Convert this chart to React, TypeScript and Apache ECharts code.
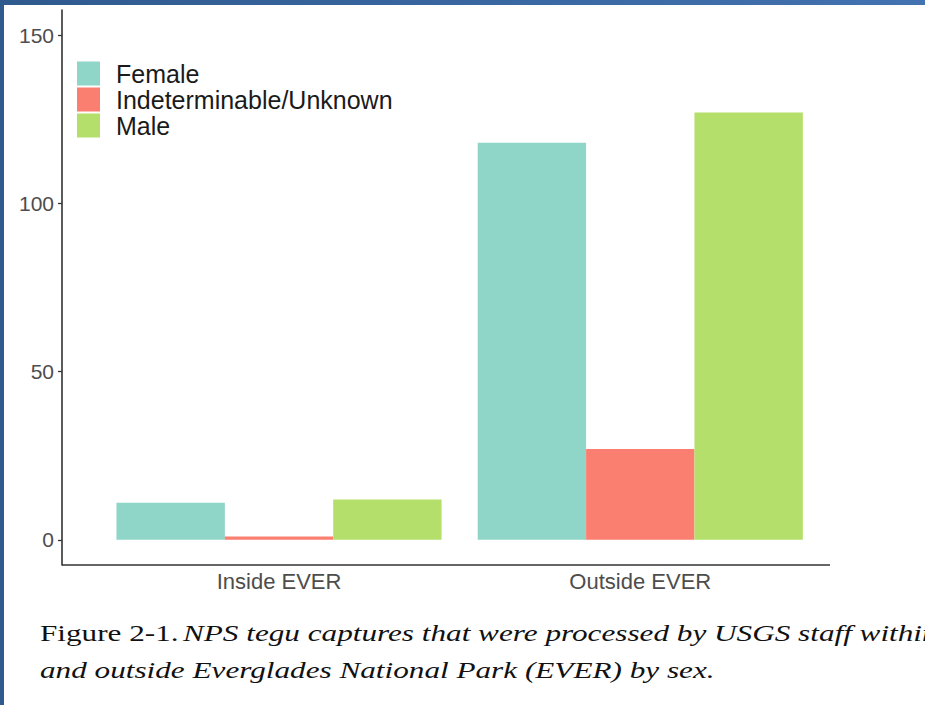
import React, { useEffect, useRef } from "react";
import * as echarts from "echarts";

const categories = ["Inside EVER", "Outside EVER"];
const seriesNames = ["Female", "Indeterminable/Unknown", "Male"];
const femaleValues = [11, 118];
const unknownValues = [1, 27];
const maleValues = [12, 127];
const yTicks = [0, 50, 100, 150];
const seriesColors = ["#8fd5c8", "#fa7f71", "#b4df6b"];
const captionLead = "Figure 2-1.";
const captionLine1 = "NPS tegu captures that were processed by USGS staff within";
const captionLine2 = "and outside Everglades National Park (EVER) by sex.";

export default function App() {
  const ref = useRef<HTMLDivElement>(null);
  useEffect(() => {
    if (!ref.current) return;
    const chart = echarts.init(ref.current, null, { renderer: "svg" });
    const values = [femaleValues, unknownValues, maleValues];
    const sans = "Liberation Sans";
    const serif = "Liberation Serif";
    chart.setOption({
      animation: false,
      backgroundColor: "#ffffff",
      grid: { left: 98.4, right: 104.1, top: 10, bottom: 140, containLabel: false },
      legend: {
        orient: "vertical",
        left: 77,
        top: 61,
        padding: 0,
        itemWidth: 23,
        itemHeight: 24,
        itemGap: 1,
        icon: "rect",
        data: seriesNames,
        textStyle: {
          fontFamily: sans,
          fontSize: 25,
          lineHeight: 25,
          color: "#1a1a1a",
          padding: [0, 0, 0, 11],
        },
      },
      xAxis: {
        type: "category",
        data: categories,
        axisLine: { show: false },
        axisTick: { show: false },
        axisLabel: {
          color: "#4d4d4d",
          fontFamily: sans,
          fontSize: 22,
          margin: 5,
        },
      },
      yAxis: {
        type: "value",
        min: -7.5,
        max: 157.5,
        offset: 36.4,
        splitLine: { show: false },
        axisLine: { show: true, lineStyle: { color: "#333333", width: 1.6 } },
        axisTick: {
          show: true,
          customValues: yTicks,
          length: 4,
          lineStyle: { color: "#333333", width: 1.3 },
        },
        axisLabel: {
          customValues: yTicks,
          color: "#4d4d4d",
          fontFamily: sans,
          fontSize: 21,
          margin: 8,
        },
      },
      series: seriesNames.map((name, i) => ({
        name,
        type: "bar",
        data: values[i],
        barGap: "0%",
        barCategoryGap: "10%",
        itemStyle: { color: seriesColors[i] },
      })),
      graphic: [
        {
          type: "rect",
          left: 0,
          top: 0,
          shape: { width: 925, height: 5 },
          style: {
            fill: new echarts.graphic.LinearGradient(0, 0, 1, 0, [
              { offset: 0, color: "#2f5a8e" },
              { offset: 1, color: "#4272b0" },
            ]),
          },
          z: 100,
        },
        {
          type: "rect",
          left: 0,
          top: 0,
          shape: { width: 4, height: 705 },
          style: { fill: "#2f5a8e" },
          z: 100,
        },
        {
          type: "line",
          shape: { x1: 62, y1: 565, x2: 830, y2: 565 },
          style: { stroke: "#333333", lineWidth: 1.6 },
          z: 50,
        },
        {
          type: "text",
          x: 40,
          y: 633,
          scaleX: 1.3,
          style: {
            text: "{n|" + captionLead + "} {i|" + captionLine1 + "}",
            verticalAlign: "middle",
            textAlign: "left",
            fill: "#111111",
            rich: {
              n: { fontFamily: serif, fontSize: 24, fill: "#111111" },
              i: { fontFamily: serif, fontSize: 24, fontStyle: "italic", fill: "#111111" },
            },
          },
        },
        {
          type: "text",
          x: 40,
          y: 670,
          scaleX: 1.3,
          style: {
            text: captionLine2,
            verticalAlign: "middle",
            textAlign: "left",
            fill: "#111111",
            fontFamily: serif,
            fontSize: 24,
            fontStyle: "italic",
          },
        },
      ],
    });
    return () => chart.dispose();
  }, []);
  return (
    <div
      ref={ref}
      style={{ position: "fixed", left: 0, top: 0, width: 925, height: 705 }}
    />
  );
}
